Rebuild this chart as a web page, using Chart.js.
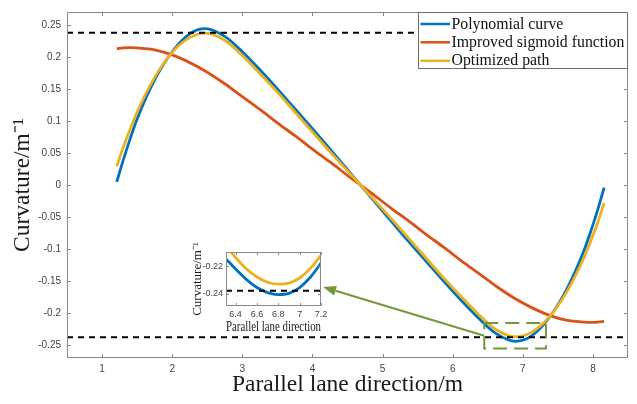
<!DOCTYPE html>
<html><head><meta charset="utf-8">
<script src="https://cdn.jsdelivr.net/npm/chart.js@4.4.1/dist/chart.umd.min.js"></script>
<style>
html,body{margin:0;padding:0;background:#fff;}
#wrap{position:relative;width:637px;height:404px;overflow:hidden;}
#main{position:absolute;left:0;top:0;}
#inset{position:absolute;left:180px;top:232px;}
</style></head><body>
<div id="wrap"><canvas id="main" width="637" height="404"></canvas><canvas id="inset" width="170" height="105"></canvas></div>
<script>
// ---------- data ----------
const xs = [1.21, 1.3, 1.4, 1.5, 1.75, 2.0, 2.25, 2.47, 2.75, 3.0, 3.25, 3.5, 3.75, 4.0, 4.25, 4.5, 4.685,
            4.87, 5.12, 5.37, 5.62, 5.87, 6.12, 6.37, 6.62, 6.9, 7.12, 7.37, 7.62, 7.87, 7.97, 8.07, 8.16];
const polynomial = [0.005, 0.038, 0.072, 0.103, 0.164, 0.208, 0.236, 0.244, 0.232, 0.208, 0.180, 0.150, 0.119, 0.088, 0.056, 0.024, 0,
            -0.024, -0.056, -0.088, -0.119, -0.150, -0.180, -0.208, -0.232, -0.244, -0.236, -0.208, -0.164, -0.103, -0.072, -0.038, -0.004];
const sigmoid = [0.213, 0.214, 0.2145, 0.214, 0.211, 0.203, 0.191, 0.178, 0.158, 0.138, 0.118, 0.097, 0.077, 0.056, 0.036, 0.015, 0,
            -0.015, -0.036, -0.056, -0.077, -0.097, -0.118, -0.138, -0.158, -0.178, -0.191, -0.203, -0.211, -0.214, -0.2145, -0.214, -0.213];
const optimized = [0.029, 0.058, 0.087, 0.114, 0.168, 0.207, 0.230, 0.237, 0.226, 0.202, 0.174, 0.145, 0.114, 0.083, 0.052, 0.022, 0,
            -0.022, -0.052, -0.083, -0.114, -0.145, -0.174, -0.202, -0.226, -0.237, -0.230, -0.207, -0.168, -0.114, -0.087, -0.058, -0.028];
const seriesNames = ['Polynomial curve', 'Improved sigmoid function', 'Optimized path'];
const xTicks = [1, 2, 3, 4, 5, 6, 7, 8];
const yTicks = [-0.25, -0.2, -0.15, -0.1, -0.05, 0, 0.05, 0.1, 0.15, 0.2, 0.25];
const xRange = [0.5, 8.5];
const yRange = [-0.27, 0.27];
const limitLevels = [0.2375, -0.2375];
const zoomBoxX = [6.45, 7.33];
const zoomBoxY = [-0.2153, -0.255];
const xTitle = 'Parallel lane direction/m';
const yTitle = 'Curvature/m\u207B\u00B9';

// inset (zoomed view)
const insetX = [6.31, 6.4, 6.5, 6.6, 6.7, 6.8, 6.9, 7.0, 7.1, 7.2];
const insetPolynomial = [-0.2145, -0.2220, -0.2295, -0.2355, -0.2392, -0.2407, -0.2398, -0.2355, -0.2280, -0.2176];
const insetOptimized = [-0.2050, -0.2135, -0.2218, -0.2278, -0.2316, -0.2330, -0.2322, -0.2285, -0.2215, -0.2119];
const insetXTicks = [6.4, 6.6, 6.8, 7, 7.2];
const insetYTicks = [-0.24, -0.22];
const insetXRange = [6.31, 7.2];
const insetYRange = [-0.249, -0.2095];
const insetLimit = -0.2379;
const insetXTitle = 'Parallel lane direction';

// ---------- styling ----------
const COLORS = ['#0072BD', '#D95319', '#EDB120'];
const SERIF = "'Times New Roman', 'Liberation Serif', serif";
const SANS = "Arial, 'Liberation Sans', sans-serif";
const AXIS = '#8a8a8a';
const GREEN = '#76963a';

Chart.defaults.animation = false;
Chart.defaults.color = '#3a3a3a';

const pts = (xa, ya) => xa.map((x, i) => ({x, y: ya[i]}));

const frame = {
  id: 'frame',
  beforeDraw(chart, args, o) {
    const {ctx, chartArea: a} = chart;
    ctx.save();
    ctx.fillStyle = '#fff';
    if (o.fillAll) ctx.fillRect(0, 0, chart.width, chart.height);
    else ctx.fillRect(a.left, a.top, a.right - a.left, a.bottom - a.top);
    ctx.restore();
  },
  afterDatasetsDraw(chart, args, o) {
    const {ctx, chartArea: a, scales: {x, y}} = chart;
    ctx.save();
    ctx.strokeStyle = AXIS; ctx.lineWidth = 1;
    const L = o.tickLen;
    ctx.beginPath();
    x.ticks.forEach(t => {
      const p = Math.round(x.getPixelForValue(t.value)) + 0.5;
      ctx.moveTo(p, a.bottom); ctx.lineTo(p, a.bottom - L);
      ctx.moveTo(p, a.top); ctx.lineTo(p, a.top + L);
    });
    y.ticks.forEach(t => {
      const p = Math.round(y.getPixelForValue(t.value)) + 0.5;
      ctx.moveTo(a.left, p); ctx.lineTo(a.left + L, p);
      ctx.moveTo(a.right, p); ctx.lineTo(a.right - L, p);
    });
    ctx.stroke();
    ctx.strokeRect(Math.round(a.left) + 0.5, Math.round(a.top) + 0.5,
                   Math.round(a.right - a.left) - 1, Math.round(a.bottom - a.top) - 1);
    ctx.restore();
  }
};

const extras = {
  id: 'extras',
  afterDraw(chart) {
    const {ctx, chartArea: a, scales: {x, y}} = chart;
    ctx.save();
    // dashed zoom box
    const bx0 = x.getPixelForValue(zoomBoxX[0]), bx1 = x.getPixelForValue(zoomBoxX[1]);
    const by0 = y.getPixelForValue(zoomBoxY[0]), by1 = y.getPixelForValue(zoomBoxY[1]);
    ctx.strokeStyle = GREEN; ctx.lineWidth = 2; ctx.setLineDash([14, 7]);
    ctx.strokeRect(bx0, by0, bx1 - bx0, by1 - by0);
    ctx.setLineDash([]);
    // arrow from the box to the inset
    const sx = bx0, sy = (by0 + by1) / 2;
    const tx = 323, ty = 287;
    const ang = Math.atan2(ty - sy, tx - sx);
    const hl = 13, hw = 5;
    const bxh = tx - hl * Math.cos(ang), byh = ty - hl * Math.sin(ang);
    ctx.strokeStyle = GREEN; ctx.fillStyle = GREEN; ctx.lineWidth = 2;
    ctx.beginPath(); ctx.moveTo(sx, sy); ctx.lineTo(bxh, byh); ctx.stroke();
    ctx.beginPath();
    ctx.moveTo(tx, ty);
    ctx.lineTo(bxh + hw * Math.sin(ang), byh - hw * Math.cos(ang));
    ctx.lineTo(bxh - hw * Math.sin(ang), byh + hw * Math.cos(ang));
    ctx.closePath(); ctx.fill();
    // legend
    const lw = 210, lh = 57;
    const lx = Math.round(a.right) - lw, ly = Math.round(a.top);
    ctx.fillStyle = '#fff';
    ctx.fillRect(lx, ly, lw, lh);
    ctx.strokeStyle = '#6e6e6e'; ctx.lineWidth = 1;
    ctx.strokeRect(lx + 0.5, ly + 0.5, lw - 1, lh - 1);
    ctx.font = '15.8px ' + SERIF;
    ctx.textBaseline = 'middle';
    const rows = [12, 30.3, 48.8];
    chart.data.datasets.slice(0, 3).forEach((ds, i) => {
      const yy = ly + rows[i];
      ctx.strokeStyle = ds.borderColor; ctx.lineWidth = 2.5;
      ctx.beginPath(); ctx.moveTo(lx + 2.5, yy); ctx.lineTo(lx + 32, yy); ctx.stroke();
      ctx.fillStyle = '#111';
      ctx.fillText(ds.label, lx + 33.5, yy + 0.5);
    });
    ctx.restore();
  }
};

const lineDs = (label, data, color, order) => ({
  label, data, borderColor: color, backgroundColor: color, borderWidth: 2.8,
  pointRadius: 0, cubicInterpolationMode: 'monotone', fill: false, order
});
const dashDs = (data) => ({
  label: '', data, borderColor: '#000', borderWidth: 2, borderDash: [6, 5],
  pointRadius: 0, fill: false, order: 0
});

new Chart(document.getElementById('main'), {
  type: 'line',
  data: {
    datasets: [
      lineDs(seriesNames[0], pts(xs, polynomial), COLORS[0], 3),
      lineDs(seriesNames[1], pts(xs, sigmoid), COLORS[1], 2),
      lineDs(seriesNames[2], pts(xs, optimized), COLORS[2], 1),
      dashDs(xRange.map(v => ({x: v, y: limitLevels[0]}))),
      dashDs(xRange.map(v => ({x: v, y: limitLevels[1]})))
    ]
  },
  options: {
    responsive: false,
    devicePixelRatio: 1,
    layout: {padding: {top: 12, right: 9, left: 0, bottom: 0}},
    plugins: {legend: {display: false}, tooltip: {enabled: false}, frame: {tickLen: 4, fillAll: true}},
    scales: {
      x: {
        type: 'linear', min: xRange[0], max: xRange[1],
        afterBuildTicks: s => { s.ticks = xTicks.map(v => ({value: v})); },
        afterFit: s => { s.height = 46; },
        grid: {display: false, drawTicks: false}, border: {display: false},
        ticks: {padding: 5, font: {family: SANS, size: 10}, color: '#444', callback: v => String(v), maxRotation: 0},
        title: {display: true, text: xTitle, font: {family: SERIF, size: 23.5}, color: '#1a1a1a', padding: {top: 0, bottom: 5}}
      },
      y: {
        type: 'linear', min: yRange[0], max: yRange[1],
        afterBuildTicks: s => { s.ticks = yTicks.map(v => ({value: v})); },
        afterFit: s => { s.width = 67; },
        grid: {display: false, drawTicks: false}, border: {display: false},
        ticks: {padding: 6, font: {family: SANS, size: 10}, color: '#444', callback: v => String(v)},
        title: {display: true, text: yTitle, font: {family: SERIF, size: 23.5}, color: '#1a1a1a', padding: {top: 9, bottom: 0}}
      }
    }
  },
  plugins: [frame, extras]
});

new Chart(document.getElementById('inset'), {
  type: 'line',
  data: {
    datasets: [
      lineDs(seriesNames[0], pts(insetX, insetPolynomial), COLORS[0], 2),
      lineDs(seriesNames[2], pts(insetX, insetOptimized), COLORS[2], 1),
      dashDs(insetXRange.map(v => ({x: v, y: insetLimit})))
    ]
  },
  options: {
    responsive: false,
    devicePixelRatio: 1,
    layout: {padding: {top: 20, right: 29, left: 0, bottom: 0}},
    plugins: {legend: {display: false}, tooltip: {enabled: false}, frame: {tickLen: 3, fillAll: false}},
    scales: {
      x: {
        type: 'linear', min: insetXRange[0], max: insetXRange[1],
        afterBuildTicks: s => { s.ticks = insetXTicks.map(v => ({value: v})); },
        afterFit: s => { s.height = 31; },
        grid: {display: false, drawTicks: false}, border: {display: false},
        ticks: {padding: 3, font: {family: SANS, size: 9}, color: '#444', callback: v => String(v), maxRotation: 0, autoSkip: false},
        title: {display: true, text: insetXTitle, font: {family: SERIF, size: 14}, color: '#1a1a1a', padding: {top: 0, bottom: 1}}
      },
      y: {
        type: 'linear', min: insetYRange[0], max: insetYRange[1],
        afterBuildTicks: s => { s.ticks = insetYTicks.map(v => ({value: v})); },
        afterFit: s => { s.width = 46; },
        grid: {display: false, drawTicks: false}, border: {display: false},
        ticks: {padding: 3, font: {family: SANS, size: 9}, color: '#444', callback: v => String(v)},
        title: {display: true, text: yTitle, font: {family: SERIF, size: 13}, color: '#1a1a1a', padding: {top: 10, bottom: 0}}
      }
    }
  },
  plugins: [frame]
});
</script>
</body></html>
